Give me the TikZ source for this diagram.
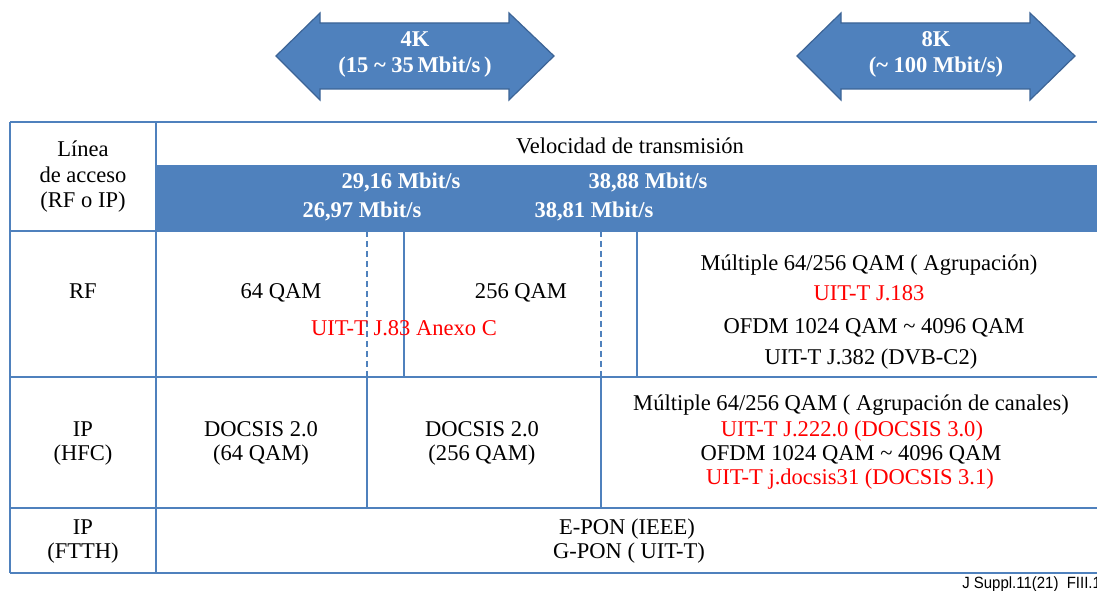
\documentclass[tikz,border=0pt]{standalone}
\usepackage{fontspec}
\setmainfont{Liberation Serif}
\newfontfamily\footfont{Liberation Sans}[FakeStretch=0.92]
\definecolor{tblue}{RGB}{79,129,189}
\definecolor{tedge}{RGB}{60,100,150}
\definecolor{tred}{RGB}{255,0,0}

\begin{document}
\begin{tikzpicture}[x=0.75pt,y=-0.75pt,
  txt/.style={inner sep=0pt, anchor=base, text=black,
              font=\fontsize{16.9}{20}\selectfont},
  redtxt/.style={txt, text=tred},
  boldtxt/.style={inner sep=0pt, anchor=base, text=white,
                  font=\fontsize{16.9}{20}\selectfont\bfseries},
  grid/.style={draw=tblue, line width=1.5pt},
  dashgrid/.style={draw=tblue, line width=1.5pt, dash pattern=on 4.5pt off 3pt},
  ratearrow/.style={fill=tblue, draw=tedge, line width=0.9pt, line join=miter}]

\useasboundingbox (0,0) rectangle (1097,591);
\clip (0,0) rectangle (1097,591);

% ---- resolution arrows ----
\path[ratearrow] (276,56) -- (320,13) -- (320,23) -- (509,23) -- (509,13)
  -- (554,56) -- (509,100) -- (509,89) -- (320,89) -- (320,100) -- cycle;
\node[boldtxt] (k4a) at (415,47) {4K};
\node[boldtxt] (k4b) at (415,73) {(15 \char`\~{} 35\,Mbit/s\,)};

\path[ratearrow] (797,56) -- (841,13) -- (841,23) -- (1030,23) -- (1030,13)
  -- (1075,56) -- (1030,100) -- (1030,89) -- (841,89) -- (841,100) -- cycle;
\node[boldtxt] (k8a) at (936,47) {8K};
\node[boldtxt] (k8b) at (936,73) {(\char`\~{} 100 Mbit/s)};

% ---- table frame ----
\fill[tblue] (156,165) rectangle (1097,231);
\draw[grid] (10,122) -- (1097,122);
\draw[grid] (10,231) -- (1097,231);
\draw[grid] (10,377) -- (1097,377);
\draw[grid] (10,508) -- (1097,508);
\draw[grid] (10,573) -- (1097,573);
\draw[grid] (10,122) -- (10,573);
\draw[grid] (156,122) -- (156,573);
% RF row dividers
\draw[dashgrid] (367,231) -- (367,377);
\draw[grid] (404,231) -- (404,377);
\draw[dashgrid] (601,231) -- (601,377);
\draw[grid] (637,231) -- (637,377);
% HFC row dividers
\draw[grid] (367,377) -- (367,508);
\draw[grid] (601,377) -- (601,508);

% ---- header ----
\node[txt] (h1) at (83,157) {Línea};
\node[txt] (h2) at (83,183) {de acceso};
\node[txt] (h3) at (83,208) {(RF o IP)};
\node[txt] (vel) at (630,154) {Velocidad de transmisión};
\node[boldtxt] (r1) at (401,189) {29,16 Mbit/s};
\node[boldtxt] (r2) at (648,189) {38,88 Mbit/s};
\node[boldtxt] (r3) at (362,218) {26,97 Mbit/s};
\node[boldtxt] (r4) at (594,218) {38,81 Mbit/s};

% ---- RF row ----
\node[txt] (rf) at (83,299) {RF};
\node[txt] (q64) at (281,299) {64 QAM};
\node[txt] (q256) at (521,299) {256 QAM};
\node[redtxt] (j83) at (404,336) {UIT-T J.83 Anexo C};
\node[txt] (rfa) at (869,271) {Múltiple 64/256 QAM ( Agrupación)};
\node[redtxt] (rfb) at (869,301) {UIT-T J.183};
\node[txt] (rfc) at (874,334) {OFDM 1024 QAM \char`\~{} 4096 QAM};
\node[txt] (rfd) at (871,365) {UIT-T J.382 (DVB-C2)};

% ---- IP (HFC) row ----
\node[txt] (ip1) at (83,437) {IP};
\node[txt] (hfc) at (83,461) {(HFC)};
\node[txt] (d1a) at (261,437) {DOCSIS 2.0};
\node[txt] (d1b) at (261,461) {(64 QAM)};
\node[txt] (d2a) at (482,437) {DOCSIS 2.0};
\node[txt] (d2b) at (482,461) {(256 QAM)};
\node[txt] (ha) at (851,411) {Múltiple 64/256 QAM ( Agrupación de canales)};
\node[redtxt] (hb) at (852,437) {UIT-T J.222.0 (DOCSIS 3.0)};
\node[txt] (hc) at (851,461) {OFDM 1024 QAM \char`\~{} 4096 QAM};
\node[redtxt] (hd) at (850,485) {UIT-T j.docsis31 (DOCSIS 3.1)};

% ---- IP (FTTH) row ----
\node[txt] (ip2) at (83,535) {IP};
\node[txt] (ftth) at (83,559) {(FTTH)};
\node[txt] (epon) at (627,535) {E-PON (IEEE)};
\node[txt] (gpon) at (629,559) {G-PON ( UIT-T)};

% ---- figure tag (runs off the right edge) ----
\node[inner sep=0pt, anchor=base west, font=\footfont\fontsize{12.2}{14}\selectfont]
  (tag) at (962,589) {J Suppl.11(21)\ \ FIII.1};
\end{tikzpicture}
\end{document}
